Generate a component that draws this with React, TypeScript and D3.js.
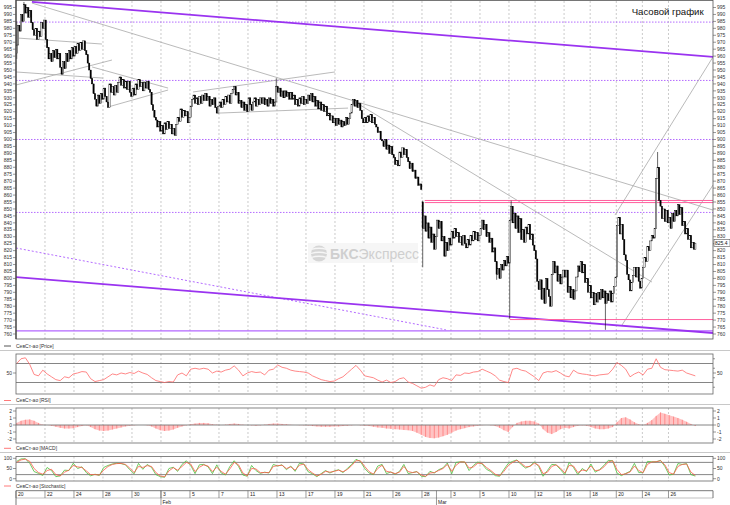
import React from "react";
import * as d3 from "d3";

// ---- time axis ----
const dayLabels = ["20", "22", "24", "28", "30", "3", "5", "7", "11", "13", "17", "19", "21", "26", "28", "3", "5", "10", "12", "16", "18", "20", "24", "26"];
const dayLabelBars = [0, 20, 40, 60, 80, 100, 120, 140, 160, 180, 200, 220, 240, 260, 280, 300, 320, 340, 358, 378, 396, 414, 432, 450];
const monthLabels = ["Feb", "Mar"];
const monthBars = [100, 290];

// ---- hourly closes (СевСт-ао) ----
const firstOpen = 962;
const closes = [
  968, 982, 978, 990, 985, 997, 991, 995, 988, 993,
  984, 979, 975, 980, 972, 978, 974, 984, 980, 986,
  972, 966, 958, 962, 956, 964, 959, 965, 958, 962,
  952, 947, 956, 951, 962, 956, 964, 958, 966, 960,
  967, 962, 969, 964, 970, 965, 971, 964, 961, 955,
  950, 944, 940, 933, 929, 924, 932, 926, 933, 929,
  937, 931, 927, 923, 940, 934, 938, 932, 939, 934,
  941, 945, 939, 943, 937, 942, 936, 942, 934, 931,
  937, 932, 940, 936, 943, 938, 941, 935, 941, 937,
  942, 936, 934, 925, 921, 916, 914, 909, 913, 906,
  910, 904, 912, 907, 913, 908, 911, 904, 908, 903,
  911, 916, 913, 922, 916, 921, 917, 920, 912, 916,
  924, 929, 932, 926, 930, 925, 931, 926, 932, 928,
  933, 928, 931, 924, 929, 925, 930, 923, 919, 924,
  927, 923, 929, 925, 931, 927, 932, 926, 933, 936,
  938, 932, 934, 926, 928, 923, 927, 921, 925, 920,
  930, 925, 921, 927, 930, 924, 929, 925, 930, 926,
  930, 925, 929, 924, 930, 926, 929, 924, 927, 938,
  934, 937, 931, 935, 930, 935, 931, 934, 929, 934,
  929, 932, 925, 929, 924, 930, 926, 931, 925, 929,
  926, 932, 928, 933, 927, 931, 924, 928, 922, 927,
  921, 925, 920, 924, 917, 919, 914, 917, 912, 915,
  910, 915, 911, 914, 909, 913, 910, 916, 911, 915,
  919, 925, 929, 924, 928, 923, 926, 921, 915, 912,
  916, 912, 917, 913, 918, 912, 916, 911, 909, 905,
  906, 900, 899, 895, 900, 893, 896, 890, 895, 889,
  887, 882, 885, 881, 891, 887, 894, 889, 893, 887,
  884, 879, 883, 877, 878, 872, 873, 867, 868, 864,
  836, 845, 834, 840, 829, 837, 826, 832, 821, 830,
  842, 836, 841, 827, 830, 816, 826, 820, 829, 824,
  834, 829, 836, 830, 833, 826, 830, 824, 831, 825,
  822, 828, 824, 831, 827, 834, 828, 833, 827, 831,
  836, 842, 835, 839, 830, 833, 826, 829, 819, 822,
  812, 803, 807, 800, 810, 806, 813, 809, 816, 811,
  842, 852, 840, 847, 836, 845, 833, 843, 828, 835,
  826, 837, 832, 839, 828, 832, 824, 820,
  814, 798, 792, 799, 785, 793, 782, 800, 792, 787,
  780, 803, 812, 804, 809, 798, 803, 796, 801, 806,
  801, 806, 790, 794, 786, 792, 785, 791, 801, 809,
  805, 812, 804, 810, 797, 800, 790, 795, 786, 790,
  781, 789, 783, 790, 785, 792, 786, 791, 782, 789,
  784, 791, 783, 789, 794, 801, 838, 844, 832, 839,
  828, 817, 813, 803, 799, 791, 797, 802, 808, 801,
  808, 798, 793, 800, 808, 815, 812, 823, 820, 827,
  831, 829, 836, 872, 880, 856, 852, 843, 850, 841,
  849, 840, 844, 836, 847, 841, 849, 845, 853, 846,
  851, 838, 841, 832, 836, 828, 831, 822, 826, 821,
  825.4,
];
// bars whose open / high / low differ from the neighbouring closes: [bar, price]
const opensGiven = [[280, 855]];
const highsGiven = [[0, 985], [5, 999], [179, 944], [280, 856], [341, 856], [442, 891]];
const lowsGiven = [[0, 958], [280, 808], [331, 799], [340, 771], [406, 763]];
const lastPrice = 825.4;

// ---- indicators, one value every 3 bars ----
const sampleStep = 3;
const rsi = [
  70, 80, 82, 68, 47, 44, 56, 48, 42, 36,
  34, 42, 40, 48, 50, 53, 52, 38, 32, 34,
  36, 42, 48, 46, 50, 48, 51, 49, 54, 50,
  47, 40, 34, 32, 30, 32, 31, 46, 50, 44,
  58, 60, 58, 60, 58, 50, 54, 52, 56, 58,
  65, 56, 44, 50, 53, 51, 52, 46, 56, 58,
  67, 62, 60, 56, 54, 53, 52, 50, 44, 40,
  36, 34, 32, 33, 38, 42, 50, 58, 66, 56,
  44, 42, 40, 35, 31, 35, 30, 32, 38, 40,
  31, 28, 23, 18, 20, 25, 22, 36, 40, 38,
  34, 46, 45, 50, 49, 52, 53, 58, 54, 50,
  44, 35, 32, 30, 58, 60, 56, 54, 48, 42,
  34, 50, 53, 52, 55, 50, 44, 42, 56, 50,
  48, 47, 45, 44, 46, 47, 48, 58, 72, 66,
  58, 42, 48, 52, 46, 58, 60, 80, 62, 57,
  56, 55, 54, 56, 50, 47, 44,
];
const macd = [
  0.3, 0.6, 0.75, 0.8, 0.6, 0.3, 0.05, 0, -0.1, -0.25,
  -0.4, -0.5, -0.5, -0.45, -0.3, -0.15, -0.05, -0.3, -0.6, -0.8,
  -0.85, -0.8, -0.65, -0.5, -0.35, -0.2, -0.1, -0.05, 0, 0,
  -0.05, -0.2, -0.5, -0.75, -0.85, -0.8, -0.65, -0.4, -0.2, -0.05,
  0.1, 0.2, 0.3, 0.3, 0.25, 0.1, 0.05, 0, 0.05, 0.15,
  0.2, 0.15, 0.05, 0, -0.05, -0.1, -0.05, 0.05, 0.15, 0.2,
  0.2, 0.15, 0.1, 0.02, 0, -0.02, -0.05, -0.08, -0.15, -0.2,
  -0.25, -0.25, -0.25, -0.2, -0.2, -0.15, -0.1, -0.05, 0, -0.05,
  -0.1, -0.15, -0.25, -0.35, -0.4, -0.5, -0.55, -0.6, -0.65, -0.7,
  -0.75, -0.85, -1.1, -1.4, -1.7, -1.85, -1.9, -1.8, -1.6, -1.4,
  -1.1, -0.8, -0.6, -0.45, -0.3, -0.2, -0.1, -0.02, 0, -0.05,
  -0.15, -0.4, -0.75, -1.0, -0.3, 0.3, 0.5, 0.6, 0.6, 0.5,
  0.2, -0.6, -1.1, -1.3, -1.0, -0.6, -0.4, -0.5, -0.3, -0.1,
  -0.05, -0.1, -0.3, -0.5, -0.6, -0.6, -0.5, -0.3, 0.4, 1.0,
  1.1, 0.8, 0.4, 0.1, 0, 0.3, 0.7, 1.3, 1.8, 1.6,
  1.4, 1.2, 1.0, 0.75, 0.45, 0.15, -0.15,
];
const stochK = [
  85, 97, 98, 75, 35, 26, 16, 55, 40, 10,
  14, 42, 40, 76, 50, 58, 30, 14, 22, 16,
  55, 65, 72, 76, 74, 68, 44, 24, 75, 46,
  70, 55, 20, 10, 7, 50, 56, 36, 70, 88,
  65, 25, 68, 70, 58, 25, 68, 28, 18, 60,
  88, 60, 18, 12, 65, 40, 26, 32, 28, 70,
  62, 68, 44, 62, 36, 76, 72, 34, 24, 10,
  25, 40, 28, 38, 44, 30, 50, 70, 95, 85,
  50, 28, 20, 62, 70, 25, 33, 22, 36, 70,
  25, 30, 35, 12, 10, 36, 28, 44, 53, 77,
  24, 80, 83, 82, 40, 65, 82, 72, 46, 35,
  15, 12, 45, 75, 85, 92, 68, 52, 62, 82,
  60, 12, 40, 70, 68, 45, 20, 80, 55, 20,
  50, 35, 72, 32, 45, 65, 90, 88, 28, 15,
  26, 36, 75, 30, 30, 85, 83, 83, 90, 60,
  18, 22, 74, 70, 74, 20, 13,
];
const stochD = [
  80, 92, 96, 85, 50, 30, 22, 40, 46, 20,
  14, 32, 42, 65, 58, 55, 38, 20, 20, 18,
  42, 60, 70, 74, 75, 70, 52, 30, 60, 55,
  64, 60, 30, 14, 9, 38, 54, 42, 60, 80,
  72, 35, 56, 68, 62, 35, 56, 36, 22, 48,
  80, 68, 28, 14, 50, 48, 30, 30, 30, 60,
  64, 66, 50, 58, 42, 66, 72, 44, 28, 14,
  22, 36, 32, 36, 42, 34, 45, 64, 88, 88,
  60, 35, 22, 50, 66, 36, 32, 25, 32, 60,
  35, 30, 34, 18, 12, 28, 30, 40, 50, 70,
  36, 66, 82, 82, 52, 58, 76, 75, 55, 40,
  22, 14, 36, 65, 80, 90, 75, 58, 60, 76,
  66, 25, 32, 60, 68, 52, 28, 65, 62, 30,
  42, 40, 62, 40, 42, 58, 82, 88, 45, 20,
  24, 33, 62, 40, 30, 70, 82, 83, 88, 68,
  30, 22, 60, 70, 72, 32, 16,
];

// ---- drawn levels and trend lines: [bar0, price0, bar1, price1] ----
const levelPrices = [984.5, 942.5, 900, 847.5];
const channelLines = [[10.5, 999, 480.2, 959.4], [-0.5, 801, 480.2, 760.7]];
const supportLines = [[-0.5, 762.2, 480.2, 762.2]];
const dashedLines = [[-0.5, 821.9, 296, 763]];
const pinkLines = [[281.4, 856.1, 480.2, 856.1], [281.4, 854.6, 480.2, 854.6], [340, 770.4, 480.2, 770.4]];
const grayLines = [
  [10.5, 998.2, 480.2, 849.2],
  [233.3, 927, 438.1, 797.4],
  [412.6, 845.6, 480.2, 959.4],
  [417.4, 766.4, 480.2, 867.2],
  [0.9, 973, 58.8, 968.7],
  [-0.5, 948.6, 59.5, 944.2],
  [-0.5, 939.2, 65.7, 957.2],
  [52, 952.2, 104.4, 937],
  [63, 923.4, 104.4, 935.6],
  [121.6, 934.2, 219.5, 948.6],
  [139.3, 919, 228.5, 922.6],
];

const FONT = "'Liberation Sans', Arial, sans-serif";
const L = 16;
const R = 713;

export default function App() {
  const x = d3.scaleLinear().domain([0, 480.2]).range([16.7, 713]);
  const y = d3.scaleLinear().domain([760, 995]).range([334, 7.5]);
  const yRsi = d3.scaleLinear().domain([10, 90]).range([392, 354]);
  const yMacd = d3.scaleLinear().domain([-2, 2]).range([439, 411]);
  const yStoch = d3.scaleLinear().domain([0, 100]).range([478.7, 458.3]);
  const sx = (k: number) => x(k * sampleStep);
  const gridX = (b: number) => x(b - 0.5);

  const openMap = new Map(opensGiven.map((d) => [d[0], d[1]]));
  const highMap = new Map(highsGiven.map((d) => [d[0], d[1]]));
  const lowMap = new Map(lowsGiven.map((d) => [d[0], d[1]]));
  const bars = closes.map((c, i) => {
    const o = openMap.get(i) ?? (i === 0 ? firstOpen : closes[i - 1]);
    const h = Math.max(o, c, highMap.get(i) ?? -Infinity);
    const l = Math.min(o, c, lowMap.get(i) ?? Infinity);
    return { i, o, h, l, c };
  });

  const rsiLine = d3.line<number>().x((_, k) => sx(k)).y((v) => yRsi(v))(rsi) || "";
  const kLine = d3.line<number>().x((_, k) => sx(k)).y((v) => yStoch(v))(stochK) || "";
  const dLine = d3.line<number>().x((_, k) => sx(k)).y((v) => yStoch(v))(stochD) || "";
  const macdArea = d3.area<number>().x((_, k) => sx(k)).y0(yMacd(0)).y1((v) => yMacd(v))(macd) || "";

  const priceTicks = d3.range(760, 996, 5);
  const seg = (d: number[], key: string, stroke: string, w: number, dash?: string) => (
    <line key={key} x1={x(d[0])} y1={y(d[1])} x2={x(d[2])} y2={y(d[3])} stroke={stroke} strokeWidth={w} strokeDasharray={dash} />
  );
  const vGrid = (top: number, bottom: number, key: string) =>
    dayLabelBars.slice(1).map((b) => (
      <line key={key + b} x1={gridX(b)} x2={gridX(b)} y1={top} y2={bottom} stroke="#b4b4b4" strokeWidth={0.7} strokeDasharray="2,2" />
    ));
  const legend = (yy: number, label: string, color: string) => (
    <g>
      <line x1={4} x2={11} y1={yy} y2={yy} stroke={color} strokeWidth={1} />
      <text x={16} y={yy + 1.8} fontSize={5} fill="#333">{label}</text>
    </g>
  );
  const sideLabels = (vals: number[], scale: (v: number) => number, key: string) =>
    vals.map((v) => (
      <g key={key + v}>
        <line x1={13} x2={L} y1={scale(v)} y2={scale(v)} stroke="#555" strokeWidth={0.6} />
        <line x1={R} x2={R + 3} y1={scale(v)} y2={scale(v)} stroke="#555" strokeWidth={0.6} />
        <text x={12} y={scale(v) + 1.8} fontSize={5} textAnchor="end" fill="#333">{v}</text>
        <text x={R + 4} y={scale(v) + 1.8} fontSize={5} fill="#333">{v}</text>
      </g>
    ));
  // right-hand label hidden where the last-price box sits
  const boxedTick = Math.round(lastPrice / 5) * 5;

  return (
    <div style={{ position: "fixed", left: 0, top: 0 }}>
      <svg width={730} height={505} style={{ display: "block", background: "#fff", fontFamily: FONT }}>
        <defs>
          <clipPath id="mainClip">
            <rect x={L} y={0.5} width={R - L} height={338.5} />
          </clipPath>
        </defs>

        {/* ---- price panel ---- */}
        {vGrid(1, 339, "mg")}
        <g clipPath="url(#mainClip)">
          {levelPrices.map((p) => (
            <line key={"lv" + p} x1={L} x2={R} y1={y(p)} y2={y(p)} stroke="#b46bff" strokeWidth={1} strokeDasharray="1.5,1.5" />
          ))}
          <g>
            <rect x={308} y={243} width={110} height={20} fill="#f6f6f6" />
            <circle cx={319} cy={253.5} r={8} fill="#d6d6d6" />
            {[249.5, 253.5, 257.5].map((yy) => (
              <path key={"st" + yy} d={`M311,${yy} Q319,${yy - 2.5} 327,${yy}`} stroke="#f6f6f6" strokeWidth={1.3} fill="none" />
            ))}
            <text x={330} y={258.5} fontSize={14} fill="#cfcfcf">
              <tspan fontWeight="bold">БКС</tspan>Экспресс
            </text>
          </g>
          {grayLines.map((d, k) => seg(d, "gl" + k, "#a8a8a8", 0.8))}
          {dashedLines.map((d, k) => seg(d, "dl" + k, "#b46bff", 1, "2,2"))}
          {supportLines.map((d, k) => seg(d, "sl" + k, "#b366ff", 1.3))}
          {channelLines.map((d, k) => seg(d, "cl" + k, "#9a33f0", 1.8))}
          {pinkLines.map((d, k) => seg(d, "pl" + k, "#ff5f9e", 1))}
          {bars.map((b) => (
            <g key={"b" + b.i}>
              <line x1={x(b.i)} x2={x(b.i)} y1={y(b.h)} y2={y(b.l)} stroke="#000" strokeWidth={0.6} />
              <rect
                x={x(b.i) - 0.65}
                width={1.3}
                y={y(Math.max(b.o, b.c))}
                height={Math.max(0.6, Math.abs(y(b.o) - y(b.c)))}
                fill={b.c >= b.o ? "#fff" : "#000"}
                stroke="#000"
                strokeWidth={0.4}
              />
            </g>
          ))}
        </g>
        <text x={631.7} y={15} fontSize={9.6} fill="#111">Часовой график</text>
        <rect x={L} y={0.5} width={R - L} height={338.5} fill="none" stroke="#555" strokeWidth={0.8} />
        <line x1={L} x2={L} y1={0} y2={339} stroke="#444" strokeWidth={1.2} />
        {priceTicks.map((v) => (
          <g key={"pt" + v}>
            <line x1={13} x2={L} y1={y(v)} y2={y(v)} stroke="#555" strokeWidth={0.6} />
            <line x1={R} x2={R + 3} y1={y(v)} y2={y(v)} stroke="#555" strokeWidth={0.6} />
            <text x={12} y={y(v) + 1.7} fontSize={5} textAnchor="end" fill="#333">{v}</text>
            {v !== boxedTick && <text x={R + 4} y={y(v) + 1.7} fontSize={5} fill="#333">{v}</text>}
          </g>
        ))}
        <rect x={R + 1} y={y(lastPrice) - 3.5} width={16} height={7} fill="#fff" stroke="#333" strokeWidth={0.5} />
        <text x={R + 2} y={y(lastPrice) + 1.8} fontSize={5} fill="#111">{lastPrice.toFixed(1)}</text>

        {legend(346, "СевСт-ао [Price]", "#555")}
        <line x1={0} x2={730} y1={350.5} y2={350.5} stroke="#c8c8c8" strokeWidth={1} />

        {/* ---- RSI ---- */}
        {vGrid(354, 394, "rg")}
        {[70, 30].map((v) => (
          <line key={"rl" + v} x1={L} x2={R} y1={yRsi(v)} y2={yRsi(v)} stroke="#777" strokeWidth={0.9} />
        ))}
        <path d={rsiLine} fill="none" stroke="#ff6a6a" strokeWidth={0.8} />
        <rect x={L} y={354} width={R - L} height={40} fill="none" stroke="#666" strokeWidth={0.8} />
        {sideLabels([50], yRsi, "rt")}
        {[20, 40, 60, 80].map((v) => (
          <line key={"rm" + v} x1={R} x2={R + 2} y1={yRsi(v)} y2={yRsi(v)} stroke="#555" strokeWidth={0.6} />
        ))}
        {legend(400.5, "СевСт-ао [RSI]", "#ff7a7a")}
        <line x1={0} x2={730} y1={404.5} y2={404.5} stroke="#c8c8c8" strokeWidth={1} />

        {/* ---- MACD ---- */}
        {vGrid(408, 443, "cg")}
        <path d={macdArea} fill="#ffc4c4" stroke="none" />
        {macd.map((v, k) => (
          <line key={"mh" + k} x1={sx(k)} x2={sx(k)} y1={yMacd(0)} y2={yMacd(v)} stroke="#ff7070" strokeWidth={0.7} />
        ))}
        <line x1={L} x2={R} y1={yMacd(0)} y2={yMacd(0)} stroke="#777" strokeWidth={0.9} />
        <rect x={L} y={408} width={R - L} height={35} fill="none" stroke="#666" strokeWidth={0.8} />
        {sideLabels([2, 1, 0, -1, -2], yMacd, "mt")}
        {legend(448.3, "СевСт-ао [MACD]", "#ff7a7a")}
        <line x1={0} x2={730} y1={452.5} y2={452.5} stroke="#c8c8c8" strokeWidth={1} />

        {/* ---- Stochastic ---- */}
        {vGrid(456.5, 481, "sg")}
        {[80, 20].map((v) => (
          <line key={"sl" + v} x1={L} x2={R} y1={yStoch(v)} y2={yStoch(v)} stroke="#777" strokeWidth={0.9} />
        ))}
        <path d={kLine} fill="none" stroke="#4cbf3c" strokeWidth={0.8} />
        <path d={dLine} fill="none" stroke="#ff5a4a" strokeWidth={0.8} />
        <rect x={L} y={456.5} width={R - L} height={24.5} fill="none" stroke="#666" strokeWidth={0.8} />
        {sideLabels([100, 50, 0], yStoch, "kt")}
        {legend(486, "СевСт-ао [Stochastic]", "#ff7a7a")}

        {/* ---- date axis ---- */}
        <line x1={L} x2={R} y1={490.7} y2={490.7} stroke="#555" strokeWidth={0.8} />
        <line x1={L} x2={R} y1={498} y2={498} stroke="#999" strokeWidth={0.6} />
        <line x1={L} x2={L} y1={490.7} y2={505} stroke="#555" strokeWidth={0.8} />
        <line x1={R} x2={R} y1={490.7} y2={498} stroke="#555" strokeWidth={0.8} />
        {dayLabelBars.map((b, k) => (
          <g key={"dl" + k}>
            <line x1={gridX(b)} x2={gridX(b)} y1={490.7} y2={498} stroke="#555" strokeWidth={0.6} />
            <text x={gridX(b) + 2} y={496.2} fontSize={5} fill="#222">{dayLabels[k]}</text>
          </g>
        ))}
        {monthBars.map((b, k) => (
          <g key={"mo" + k}>
            <line x1={gridX(b)} x2={gridX(b)} y1={490.7} y2={505} stroke="#555" strokeWidth={0.6} />
            <text x={gridX(b) + 1.5} y={503.5} fontSize={5} fill="#222">{monthLabels[k]}</text>
          </g>
        ))}
      </svg>
    </div>
  );
}
